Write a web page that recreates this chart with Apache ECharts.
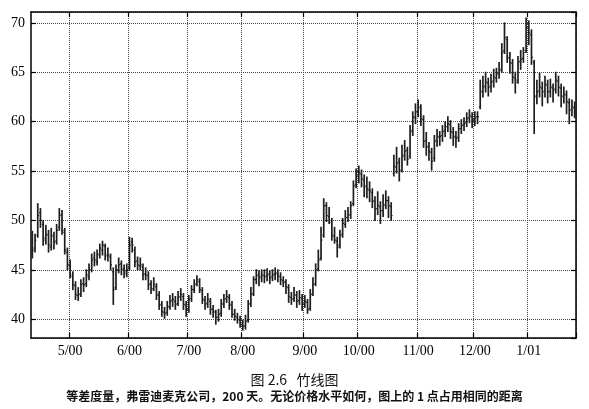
<!DOCTYPE html>
<html>
<head>
<meta charset="utf-8">
<script src="https://cdn.jsdelivr.net/npm/echarts@6/dist/echarts.min.js"></script>
<style>
html,body{margin:0;padding:0;background:#fff;}
#chart{width:589px;height:409px;}
</style>
</head>
<body>
<div id="chart"></div>
<script>
// Daily OHLC, Freddie Mac, ~200 trading days (Apr 2000 - Jan 2001)
const opens = [
46.5,47.2,48.5,50.8,49.6,48.2,48.6,47.3,48.4,47.9,49.3,50.6,48.8,46.8,45.4,44.3,43.4,42.4,42.6,43.6,
43.6,44.3,45.0,46.2,45.8,46.6,47.0,47.4,46.4,46.3,44.8,43.2,45.0,45.6,45.1,44.6,45.2,47.8,47.0,45.9,
45.4,45.3,44.6,44.4,43.6,43.1,43.3,42.4,41.4,40.7,40.7,41.2,41.9,41.8,41.6,42.3,42.3,41.4,41.0,42.1,
43.0,43.6,43.8,42.9,41.9,41.6,41.8,41.0,40.7,40.2,40.6,41.6,42.1,42.2,41.4,40.5,40.2,39.9,39.4,39.3,
39.9,41.6,42.6,44.0,44.4,44.3,44.4,44.4,44.5,44.3,44.6,44.6,44.3,43.9,43.7,43.2,42.2,42.1,42.4,41.9,
42.1,41.6,41.7,41.1,42.6,43.6,45.1,46.2,48.5,51.5,50.4,49.8,48.4,47.9,47.5,48.6,49.6,50.3,50.6,51.7,
53.6,54.5,54.7,54.1,53.4,53.1,52.8,51.9,51.2,51.4,51.0,51.6,52.0,51.4,54.8,55.4,55.9,55.1,56.6,57.1,
56.5,59.1,60.4,61.0,61.4,60.2,58.1,57.4,56.9,56.3,58.1,58.4,58.6,59.1,59.5,59.7,58.9,58.4,58.4,59.3,
59.7,59.9,60.4,60.5,60.2,60.5,61.5,63.1,63.6,63.9,63.6,64.1,64.4,64.9,65.3,67.2,68.3,66.4,65.9,64.4,
64.2,66.1,66.4,67.2,69.6,68.8,66.0,62.6,63.1,63.4,63.1,63.7,63.1,63.4,63.3,64.1,63.4,62.6,62.7,61.9,
61.2,61.4];
const highs = [
48.9,48.6,51.7,51.2,50.0,49.5,49.0,49.2,48.8,49.6,51.2,51.0,49.2,47.2,46.0,44.8,43.8,43.2,44.0,44.2,
45.0,45.6,46.6,46.8,47.0,47.6,47.9,47.6,47.2,46.6,45.2,45.5,46.2,45.9,45.5,45.6,48.3,48.2,47.3,46.3,
46.2,45.6,45.2,44.8,43.9,44.2,43.6,42.8,41.8,41.2,41.8,42.4,42.6,42.3,42.8,43.1,42.6,41.8,42.4,43.4,
44.0,44.4,44.1,43.2,42.3,42.6,42.1,41.4,40.9,41.0,42.0,42.5,42.9,42.5,41.8,41.0,40.6,40.3,39.9,40.4,
41.9,43.2,44.3,45.0,44.9,45.0,45.0,45.1,44.9,45.0,45.2,45.0,44.7,44.3,44.0,43.5,42.7,43.2,42.8,42.9,
42.5,42.4,42.0,43.0,44.2,45.6,47.0,49.3,52.2,51.8,51.3,50.2,49.3,48.3,49.0,50.2,51.0,51.3,51.9,54.0,
55.2,55.5,55.1,54.6,54.4,53.9,53.2,52.4,52.9,51.9,52.6,53.0,52.4,51.8,56.6,57.4,56.3,57.6,58.1,57.4,
59.6,61.0,61.8,62.2,61.7,60.6,58.9,57.9,57.3,58.6,59.2,59.0,59.6,60.0,60.5,60.1,59.4,59.0,59.8,60.2,
60.4,60.9,61.2,60.9,61.0,61.0,64.2,64.6,65.0,64.4,64.8,65.3,65.4,66.0,67.9,70.0,68.6,67.0,66.3,65.0,
66.6,67.2,67.5,70.5,70.2,69.3,66.2,64.2,64.9,64.0,64.6,64.2,64.3,63.8,65.0,64.6,63.8,63.5,63.1,62.3,
62.2,62.0];
const lows = [
46.2,46.8,48.3,49.3,47.5,47.6,46.8,47.0,47.1,47.6,49.0,48.6,46.6,45.0,44.2,43.0,42.0,41.9,42.3,42.8,
43.3,44.0,44.8,45.4,45.5,46.2,46.5,46.0,45.9,45.0,41.5,43.0,44.7,44.5,44.2,44.3,45.0,46.8,45.3,45.0,
45.0,44.0,44.0,43.0,42.6,42.9,42.0,41.0,40.3,40.1,40.4,41.0,41.3,41.0,41.4,41.9,41.0,40.3,40.7,41.8,
42.7,43.4,42.7,41.6,41.0,41.2,40.5,40.2,39.5,39.8,40.3,41.2,41.7,41.0,40.2,39.9,39.6,39.2,38.9,39.0,
39.7,41.3,42.4,43.6,43.4,43.8,43.7,43.9,43.6,43.9,44.0,43.8,43.5,43.3,42.6,41.7,41.5,41.8,41.2,41.5,
40.9,41.2,40.6,40.9,42.4,43.4,44.9,46.0,48.3,49.9,49.7,48.0,47.7,46.3,47.2,48.3,49.3,49.9,50.2,51.5,
53.3,53.8,53.4,52.4,52.3,51.9,51.3,50.0,50.6,49.7,50.4,51.2,50.3,50.0,54.5,54.8,54.0,54.9,56.1,55.6,
56.3,58.6,59.8,60.5,59.6,57.4,56.6,56.1,55.1,56.0,57.5,57.6,58.0,58.5,59.0,58.3,57.6,57.4,58.0,58.8,
59.1,59.5,59.9,59.4,59.6,59.8,61.3,62.5,63.0,62.6,63.0,63.5,64.0,64.4,65.0,66.9,66.0,64.9,63.9,62.9,
63.9,65.3,66.0,67.0,67.8,65.8,58.8,61.8,62.5,61.6,62.5,61.9,62.5,62.0,62.9,62.6,61.5,61.9,60.8,59.8,
60.6,60.4];
const closes = [
47.0,48.0,50.5,50.0,48.0,48.5,47.5,48.5,47.8,49.0,50.5,49.0,47.0,45.5,44.5,43.5,42.5,42.5,43.5,43.5,
44.5,45.0,46.0,46.0,46.5,47.2,47.5,46.5,46.5,45.5,43.0,45.0,45.5,45.0,44.8,45.0,47.5,47.5,45.8,45.5,
45.5,44.5,44.5,43.5,43.0,43.5,42.5,41.5,40.8,40.6,41.3,41.8,42.0,41.5,42.2,42.5,41.5,41.0,42.0,43.0,
43.5,44.0,43.0,42.0,41.5,42.0,41.0,40.8,40.2,40.5,41.5,42.0,42.3,41.5,40.5,40.3,40.0,39.5,39.3,39.8,
41.5,42.5,44.0,44.5,44.2,44.5,44.3,44.6,44.2,44.5,44.7,44.4,44.0,43.8,43.3,42.3,42.0,42.5,41.8,42.2,
41.5,41.8,41.0,42.5,43.5,45.0,46.0,48.0,51.5,50.5,50.0,48.5,48.0,47.3,48.5,49.7,50.3,50.5,51.5,53.5,
54.5,54.8,54.2,53.5,53.2,53.0,52.0,51.2,51.5,51.0,51.5,52.0,51.5,50.5,55.5,55.8,55.0,56.5,57.0,56.2,
59.0,60.5,61.0,61.5,60.3,58.0,57.5,57.0,56.0,58.0,58.5,58.5,59.0,59.5,59.8,59.0,58.5,58.3,59.3,59.6,
59.8,60.3,60.6,60.2,60.4,60.5,63.0,63.5,64.0,63.5,64.0,64.5,64.8,65.2,67.0,68.5,66.5,66.0,64.5,64.0,
66.0,66.3,67.0,69.5,69.0,66.5,62.5,63.0,63.5,63.0,63.8,63.0,63.5,63.2,64.2,63.5,62.5,62.8,62.0,61.2,
61.5,61.0];
// First trading day of each month (index into the series) and its label
const monthStartIdx = [14, 36, 58, 78, 101, 121, 143, 164, 184];
const monthLabels = ['5/00','6/00','7/00','8/00','9/00','10/00','11/00','12/00','1/01'];
const yTicks = [40, 45, 50, 55, 60, 65, 70];
const captionTitle = '图 2.6   竹线图';
const captionText = '等差度量，弗雷迪麦克公司，200 天。无论价格水平如何，图上的 1 点占用相同的距离';

const days = closes.map((_, i) => String(i));
const rows = closes.map((c, i) => [i, opens[i], highs[i], lows[i], c]);
const isMonth = (idx) => monthStartIdx.indexOf(idx) >= 0;
const labelFor = (idx) => { const k = monthStartIdx.indexOf(Number(idx)); return k >= 0 ? monthLabels[k] : ''; };

const chart = echarts.init(document.getElementById('chart'), null, {renderer: 'canvas'});
const frame = {show: true, lineStyle: {color: '#000', width: 1.5}};
const grid = {type: 'dotted', color: '#444', width: 1};
const serif = 'Liberation Serif';
chart.setOption({
  animation: false,
  backgroundColor: '#fff',
  grid: {left: 31, right: 13, top: 12, bottom: 71, containLabel: false},
  xAxis: [{
    type: 'category', data: days, boundaryGap: true, position: 'bottom',
    axisLine: frame,
    axisTick: {show: true, inside: true, length: 5, interval: (i) => isMonth(i), lineStyle: {color: '#000', width: 1.2}},
    axisLabel: {interval: (i) => isMonth(i), formatter: (v, i) => labelFor(i), fontFamily: serif, fontSize: 14, color: '#000', margin: 6},
    splitLine: {show: true, interval: (i) => isMonth(i), lineStyle: grid}
  }, {
    type: 'category', data: days, boundaryGap: true, position: 'top',
    axisLine: frame,
    axisTick: {show: true, inside: true, length: 5, interval: (i) => isMonth(i), lineStyle: {color: '#000', width: 1.2}},
    axisLabel: {show: false, interval: (i) => isMonth(i)},
    splitLine: {show: false}
  }],
  yAxis: [{
    type: 'value', min: 38.1, max: 71.1, splitNumber: 5, position: 'left',
    axisLine: frame,
    axisTick: {show: true, inside: true, length: 5, lineStyle: {color: '#000', width: 1.2}},
    axisLabel: {fontFamily: serif, fontSize: 14, color: '#000', margin: 6, showMinLabel: false, showMaxLabel: false,
      formatter: (v) => yTicks.indexOf(v) >= 0 ? String(v) : ''},
    splitLine: {show: true, lineStyle: grid}
  }, {
    type: 'value', min: 38.1, max: 71.1, splitNumber: 5, position: 'right',
    axisLine: frame,
    axisTick: {show: true, inside: true, length: 5, lineStyle: {color: '#000', width: 1.2}},
    axisLabel: {show: false},
    splitLine: {show: false}
  }],
  series: [{
    type: 'custom',
    xAxisIndex: 0, yAxisIndex: 0,
    data: rows,
    encode: {x: 0, y: [1, 2, 3, 4]},
    renderItem: function (params, api) {
      const i = api.value(0);
      const pH = api.coord([i, api.value(2)]);
      const pL = api.coord([i, api.value(3)]);
      const pO = api.coord([i, api.value(1)]);
      const pC = api.coord([i, api.value(4)]);
      const w = api.size([1, 0])[0];
      const t = w * 0.5;
      const st = {stroke: '#1e1e1e', lineWidth: 1.7};
      return {type: 'group', children: [
        {type: 'line', shape: {x1: pH[0], y1: pH[1] - 0.5, x2: pL[0], y2: pL[1] + 0.5}, style: st},
        {type: 'line', shape: {x1: pO[0] - t, y1: pO[1], x2: pO[0], y2: pO[1]}, style: {stroke: '#1e1e1e', lineWidth: 1.2}},
        {type: 'line', shape: {x1: pC[0], y1: pC[1], x2: pC[0] + t, y2: pC[1]}, style: {stroke: '#1e1e1e', lineWidth: 1.2}}
      ]};
    }
  }],
  graphic: [
    {type: 'text', left: 'center', top: 373, style: {text: captionTitle, fontFamily: 'Noto Sans CJK SC', fontSize: 14, fill: '#111'}},
    {type: 'text', left: 'center', top: 390, style: {text: captionText, fontFamily: 'Noto Sans CJK SC', fontSize: 12, fontWeight: 'bold', fill: '#111'}}
  ]
});
</script>
</body>
</html>
